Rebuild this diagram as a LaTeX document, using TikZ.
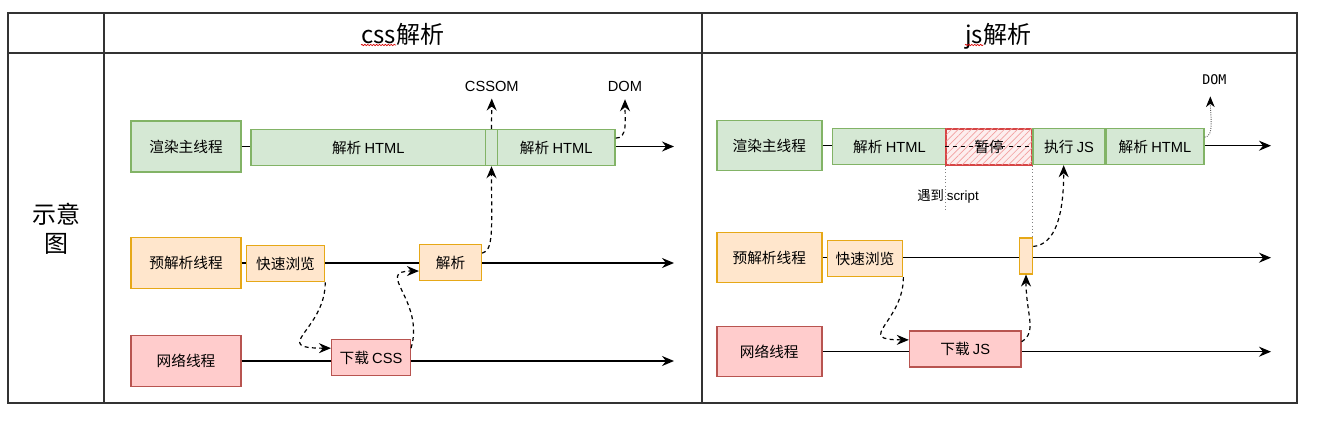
\documentclass[tikz,border=0pt]{standalone}
\usepackage{fontspec}
\setmainfont{Noto Sans CJK SC}
\setmonofont{DejaVu Sans Mono}
\newfontfamily\enfont{Liberation Sans}
\usepackage{tikz}
\usetikzlibrary{arrows.meta,patterns.meta,decorations.pathmorphing}

\begin{document}
\begin{tikzpicture}[x=0.75pt, y=-0.75pt, font=\fontsize{11}{13}\selectfont,
    tableline/.style={draw=gridgray, line width=1.2pt},
    head/.style={font=\fontsize{18}{22}\selectfont, inner sep=0pt},
    thread/.style={draw, line width=1.1pt, minimum width=82.5pt, minimum height=38pt, inner sep=0pt},
    stepbox/.style={draw, line width=1.1pt, minimum height=27pt, inner sep=0pt},
    mainbox/.style={fill=mainfill, draw=mainline},
    prebox/.style={fill=prefill, draw=preline},
    netbox/.style={fill=netfill, draw=netline},
    pausebox/.style={fill=pausefill, draw=pauseline, line width=1.5pt,
      postaction={pattern={Lines[angle=45,distance=3.5pt,line width=0.5pt]}, pattern color=hatch}},
    timeline/.style={line width=1.1pt, -{Stealth[length=9pt,width=7.5pt,inset=3pt]}},
    link/.style={line width=0.9pt, dash pattern=on 3pt off 2.5pt, -{Stealth[length=9pt,width=7.5pt,inset=3pt]}},
    domlink/.style={line width=0.7pt, densely dotted, draw=gray!70!black, -{Stealth[length=8pt,width=6.5pt,inset=2.5pt,black]}},
    guide/.style={draw=gray, line width=0.5pt, dotted},
    wavy/.style={draw=red!85!black, line width=0.5pt, decorate, decoration={snake, amplitude=0.5pt, segment length=2.2pt}}]
  % Define colors
  \definecolor{gridgray}{HTML}{333333}
  \definecolor{mainfill}{HTML}{D5E8D4}   % light green
  \definecolor{mainline}{HTML}{82B366}
  \definecolor{prefill}{HTML}{FFE6CC}    % light orange
  \definecolor{preline}{HTML}{E6A817}
  \definecolor{netfill}{HTML}{FFCCCC}    % light red
  \definecolor{netline}{HTML}{B85450}
  \definecolor{pausefill}{HTML}{FDEEEE}
  \definecolor{pauseline}{HTML}{D64545}
  \definecolor{hatch}{HTML}{F2A0A0}

  \useasboundingbox (0,0) rectangle (1319,421);

  % Table frame
  \draw[tableline] (8,13) rectangle (1297,403);
  \draw[tableline] (8,53) -- (1297,53);
  \draw[tableline] (104,13) -- (104,403);
  \draw[tableline] (702,13) -- (702,403);

  % Header texts
  \node[head, anchor=base west] (csslat) at (361,43) {css};
  \node[head, anchor=base west] (cssname) at (csslat.base east) {解析};
  \draw[wavy] ([yshift=-1.5pt]csslat.base west) -- ([yshift=-1.5pt]csslat.base east);
  \node[head, anchor=base west] (jslat) at (965,43) {js};
  \node[head, anchor=base west] (jsname) at (jslat.base east) {解析};
  \draw[wavy] ([yshift=-1.5pt]jslat.base west) -- ([yshift=-1.5pt]jslat.base east);
  \node[font=\fontsize{18}{22}\selectfont, align=center] (side) at (56,229) {示意\\图};

  % Line ends
  \coordinate (endL) at (674,0);
  \coordinate (endR) at (1271,0);

  % css: threads
  \node[thread, mainbox] (mainL) at (186,146.5) {渲染主线程};
  \node[thread, prebox] (preL) at (186,263) {预解析线程};
  \node[thread, netbox] (netL) at (186,361) {网络线程};
  \draw[timeline] (mainL.east) -- (mainL.east -| endL);
  \draw[timeline] (preL.east) -- (preL.east -| endL);
  \draw[timeline] (netL.east) -- (netL.east -| endL);

  % css: steps
  \node[stepbox, mainbox, minimum width=175.9pt] (htmlA) at (368.3,147.5) {解析 {\enfont HTML}};
  \node[stepbox, mainbox, minimum width=9pt] (cssBox) at (491.5,147.5) {};
  \node[stepbox, mainbox, minimum width=88.2pt] (htmlB) at (556.2,147.5) {解析 {\enfont HTML}};
  \node[stepbox, prebox, minimum width=58.5pt] (scanA) at (285.5,263.7) {快速浏览};
  \node[stepbox, prebox, minimum width=46.3pt] (parseA) at (450.5,262.5) {解析};
  \node[stepbox, netbox, minimum width=59pt] (loadCss) at (371,357.5) {下载 {\enfont CSS}};
  \node[font=\enfont\fontsize{11}{13}\selectfont] (cssom) at (491.8,86) {CSSOM};
  \node[font=\enfont\fontsize{11}{13}\selectfont] (domA) at (625,86) {DOM};

  % css: links
  \draw[link, shorten >=2pt] (cssBox.north) -- (cssom.south);
  \draw[link, shorten >=2.5pt] ([yshift=7pt]htmlB.east) .. controls +(12,0) and +(0,25) .. (domA.south);
  \draw[link] ([yshift=7pt]parseA.east) .. controls +(12,-2) and +(0,60) .. (cssBox.south);
  \draw[link] (scanA.south east) .. controls +(0,48) and +(-62,0) .. ([yshift=7pt]loadCss.west);
  \draw[link] ([yshift=7pt]loadCss.east) .. controls +(14,-48) and +(-45,0) .. ([yshift=-6.4pt]parseA.west);

  % js: threads
  \node[thread, mainbox, minimum width=78.75pt, minimum height=37.5pt] (mainR) at (769.3,145.7) {渲染主线程};
  \node[thread, prebox, minimum width=78.75pt, minimum height=37.5pt] (preR) at (769.3,257.7) {预解析线程};
  \node[thread, netbox, minimum width=78.75pt, minimum height=37.5pt] (netR) at (769.3,351.7) {网络线程};
  \draw[timeline] (mainR.east) -- (mainR.east -| endR);
  \draw[timeline] (preR.east) -- (preR.east -| endR);
  \draw[timeline] (netR.east) -- (netR.east -| endR);

  % js: steps
  \node[stepbox, mainbox, minimum width=85.5pt] (htmlC) at (889.4,146.5) {解析 {\enfont HTML}};
  \node[stepbox, pausebox, minimum width=64pt] (pause) at (989.1,146.5) {暂停};
  \draw[dashed, line width=0.8pt] (pause.west) -- (pause.east);
  \node[stepbox, mainbox, minimum width=54.2pt] (execJs) at (1069,146.5) {执行 {\enfont JS}};
  \node[stepbox, mainbox, minimum width=73.4pt] (htmlD) at (1154.9,146.5) {解析 {\enfont HTML}};
  \node[stepbox, prebox, minimum width=56.5pt] (scanB) at (865,258.5) {快速浏览};
  \node[stepbox, prebox, minimum width=9.8pt] (parseB) at (1026,255.8) {};
  \node[stepbox, netbox, minimum width=83.5pt] (loadJs) at (965.2,349.2) {下载 {\enfont JS}};
  \node[font=\ttfamily\fontsize{10}{12}\selectfont] (domB) at (1214.3,80) {DOM};
  \node[font=\fontsize{10}{12}\selectfont] (hit) at (948,196) {遇到 {\enfont script}};

  % js: links
  \draw[guide] (pause.south west) -- ++(0,46);
  \draw[guide] (pause.south east) -- (pause.south east |- parseB.north);
  \draw[domlink, shorten >=5pt] ([yshift=7pt]htmlD.east) .. controls +(10,0) and +(0,25) .. ([xshift=-3pt]domB.south);
  \draw[link] (scanB.south east) .. controls +(0,45) and +(-55,0) .. ([yshift=7pt]loadJs.west);
  \draw[link] ([yshift=5.6pt]loadJs.east) .. controls +(16,-10) and +(0,40) .. (parseB.south);
  \draw[link] ([yshift=7pt]parseB.east) .. controls +(22,-2) and +(0,50) .. ([xshift=-4pt]execJs.south);
\end{tikzpicture}
\end{document}
